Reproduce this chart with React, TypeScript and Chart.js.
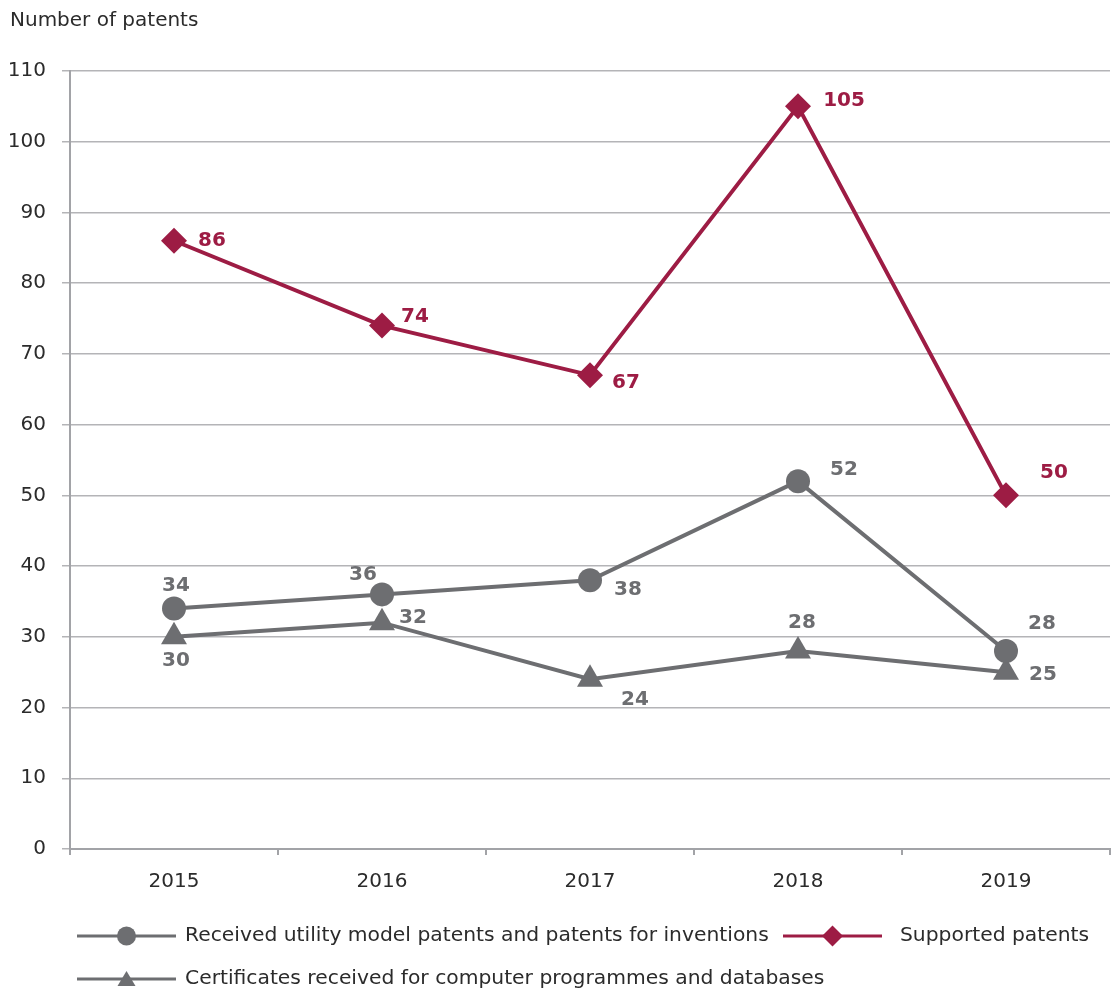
import React, { useEffect, useRef } from 'react';
import { Chart, registerables } from 'chart.js';

Chart.register(...registerables);

// ---- Data ----
const years = ['2015', '2016', '2017', '2018', '2019'];
const receivedPatents = [34, 36, 38, 52, 28];
const supportedPatents = [86, 74, 67, 105, 50];
const certificates = [30, 32, 24, 28, 25];
const seriesNames = [
  'Received utility model patents and patents for inventions',
  'Supported patents',
  'Certificates received for computer programmes and databases',
];
const yAxisTitle = 'Number of patents';
const yMin = 0;
const yMax = 110;
const yStep = 10;

// ---- Styles / layout ----
const FONT = '"DejaVu Sans", sans-serif';
const GRAY = '#6d6e71';
const CRIMSON = '#9d1c44';
const TEXT = '#2b2b2b';
const GRID = '#b4b4b7';
const AXIS = '#a2a3a7';

// label offsets (dx, dy) relative to each marker, per dataset
const labelOffsets: number[][][] = [
  [[2, -23], [-19, -20], [38, 10], [46, -11], [36, -27]],
  [[38, 0], [33, -9], [36, 8], [46, -6], [48, -23]],
  [[2, 24], [31, -5], [45, 21], [4, -28], [37, 3]],
];

const legendLayout = [
  { x: 77, y: 936, textX: 185 },
  { x: 783, y: 936, textX: 900 },
  { x: 77, y: 979, textX: 185 },
];

const valueLabelPlugin = {
  id: 'valueLabels',
  afterDatasetsDraw(chart: any) {
    const ctx = chart.ctx;
    ctx.save();
    ctx.font = `bold 20px ${FONT}`;
    ctx.textAlign = 'center';
    ctx.textBaseline = 'middle';
    chart.data.datasets.forEach((ds: any, di: number) => {
      const meta = chart.getDatasetMeta(di);
      ctx.fillStyle = ds.borderColor;
      meta.data.forEach((pt: any, i: number) => {
        const off = labelOffsets[di][i];
        ctx.fillText(String(ds.data[i]), pt.x + off[0], pt.y + off[1]);
      });
    });
    ctx.restore();
  },
};

const lineLegendPlugin = {
  id: 'lineLegend',
  afterDraw(chart: any) {
    const ctx = chart.ctx;
    chart.data.datasets.forEach((ds: any, di: number) => {
      const L = legendLayout[di];
      const color = ds.borderColor;
      ctx.save();
      ctx.strokeStyle = color;
      ctx.fillStyle = color;
      ctx.lineWidth = 3;
      ctx.beginPath();
      ctx.moveTo(L.x, L.y);
      ctx.lineTo(L.x + 99, L.y);
      ctx.stroke();
      const cx = L.x + 49.5;
      const cy = L.y;
      ctx.beginPath();
      if (ds.pointStyle === 'circle') {
        ctx.arc(cx, cy, 9.5, 0, Math.PI * 2);
      } else if (ds.pointStyle === 'rectRot') {
        const r = 10.5;
        ctx.moveTo(cx - r, cy);
        ctx.lineTo(cx, cy - r);
        ctx.lineTo(cx + r, cy);
        ctx.lineTo(cx, cy + r);
        ctx.closePath();
      } else {
        ctx.moveTo(cx, cy - 8);
        ctx.lineTo(cx + 9, cy + 7);
        ctx.lineTo(cx - 9, cy + 7);
        ctx.closePath();
      }
      ctx.fill();
      ctx.fillStyle = TEXT;
      ctx.font = `20.3px ${FONT}`;
      ctx.textAlign = 'left';
      ctx.textBaseline = 'middle';
      ctx.fillText(ds.label, L.textX, L.y);
      ctx.restore();
    });
  },
};

export default function App() {
  const canvasRef = useRef<HTMLCanvasElement | null>(null);

  useEffect(() => {
    if (!canvasRef.current) return;
    Chart.defaults.font.family = FONT;
    const mk = (label: string, data: number[], color: string, style: string, radius: number) => ({
      label,
      data,
      borderColor: color,
      backgroundColor: color,
      pointBackgroundColor: color,
      pointBorderColor: color,
      pointBorderWidth: 0,
      pointStyle: style,
      pointRadius: radius,
      pointHoverRadius: radius,
      borderWidth: 4,
      tension: 0,
      fill: false,
    });
    const chart = new Chart(canvasRef.current, {
      type: 'line',
      data: {
        labels: years,
        datasets: [
          mk(seriesNames[0], receivedPatents, GRAY, 'circle', 12),
          mk(seriesNames[1], supportedPatents, CRIMSON, 'rectRot', 13),
          mk(seriesNames[2], certificates, GRAY, 'triangle', 15),
        ],
      },
      options: {
        responsive: false,
        animation: false,
        layout: { autoPadding: false, padding: { left: 10, right: 2, top: 0, bottom: 99 } },
        plugins: {
          legend: { display: false },
          tooltip: { enabled: false },
          title: {
            display: true,
            text: yAxisTitle,
            align: 'start',
            color: TEXT,
            font: { size: 20, weight: 'normal', family: FONT },
            padding: { top: 9, bottom: 38 },
          },
        },
        scales: {
          x: {
            type: 'category',
            offset: true,
            grid: {
              display: true,
              drawOnChartArea: false,
              drawTicks: true,
              tickLength: 6,
              color: AXIS,
              lineWidth: 2,
              offset: true,
            },
            border: { display: true, color: AXIS, width: 2 },
            ticks: { color: TEXT, font: { size: 20, family: FONT }, padding: 15 },
            afterFit: (s: any) => {
              s.height = 44;
            },
          },
          y: {
            min: yMin,
            max: yMax,
            ticks: { stepSize: yStep, color: TEXT, font: { size: 20, family: FONT }, padding: 16 },
            grid: { color: GRID, lineWidth: 1.5, tickLength: 8, drawTicks: true },
            border: { display: true, color: AXIS, width: 2 },
            afterFit: (s: any) => {
              s.width = 60;
            },
          },
        },
      },
      plugins: [valueLabelPlugin, lineLegendPlugin],
    } as any);
    return () => chart.destroy();
  }, []);

  return (
    <div style={{ position: 'absolute', left: 0, top: 0, width: 1112, height: 992, background: '#fff' }}>
      <canvas ref={canvasRef} width={1112} height={992} style={{ display: 'block' }} />
    </div>
  );
}
